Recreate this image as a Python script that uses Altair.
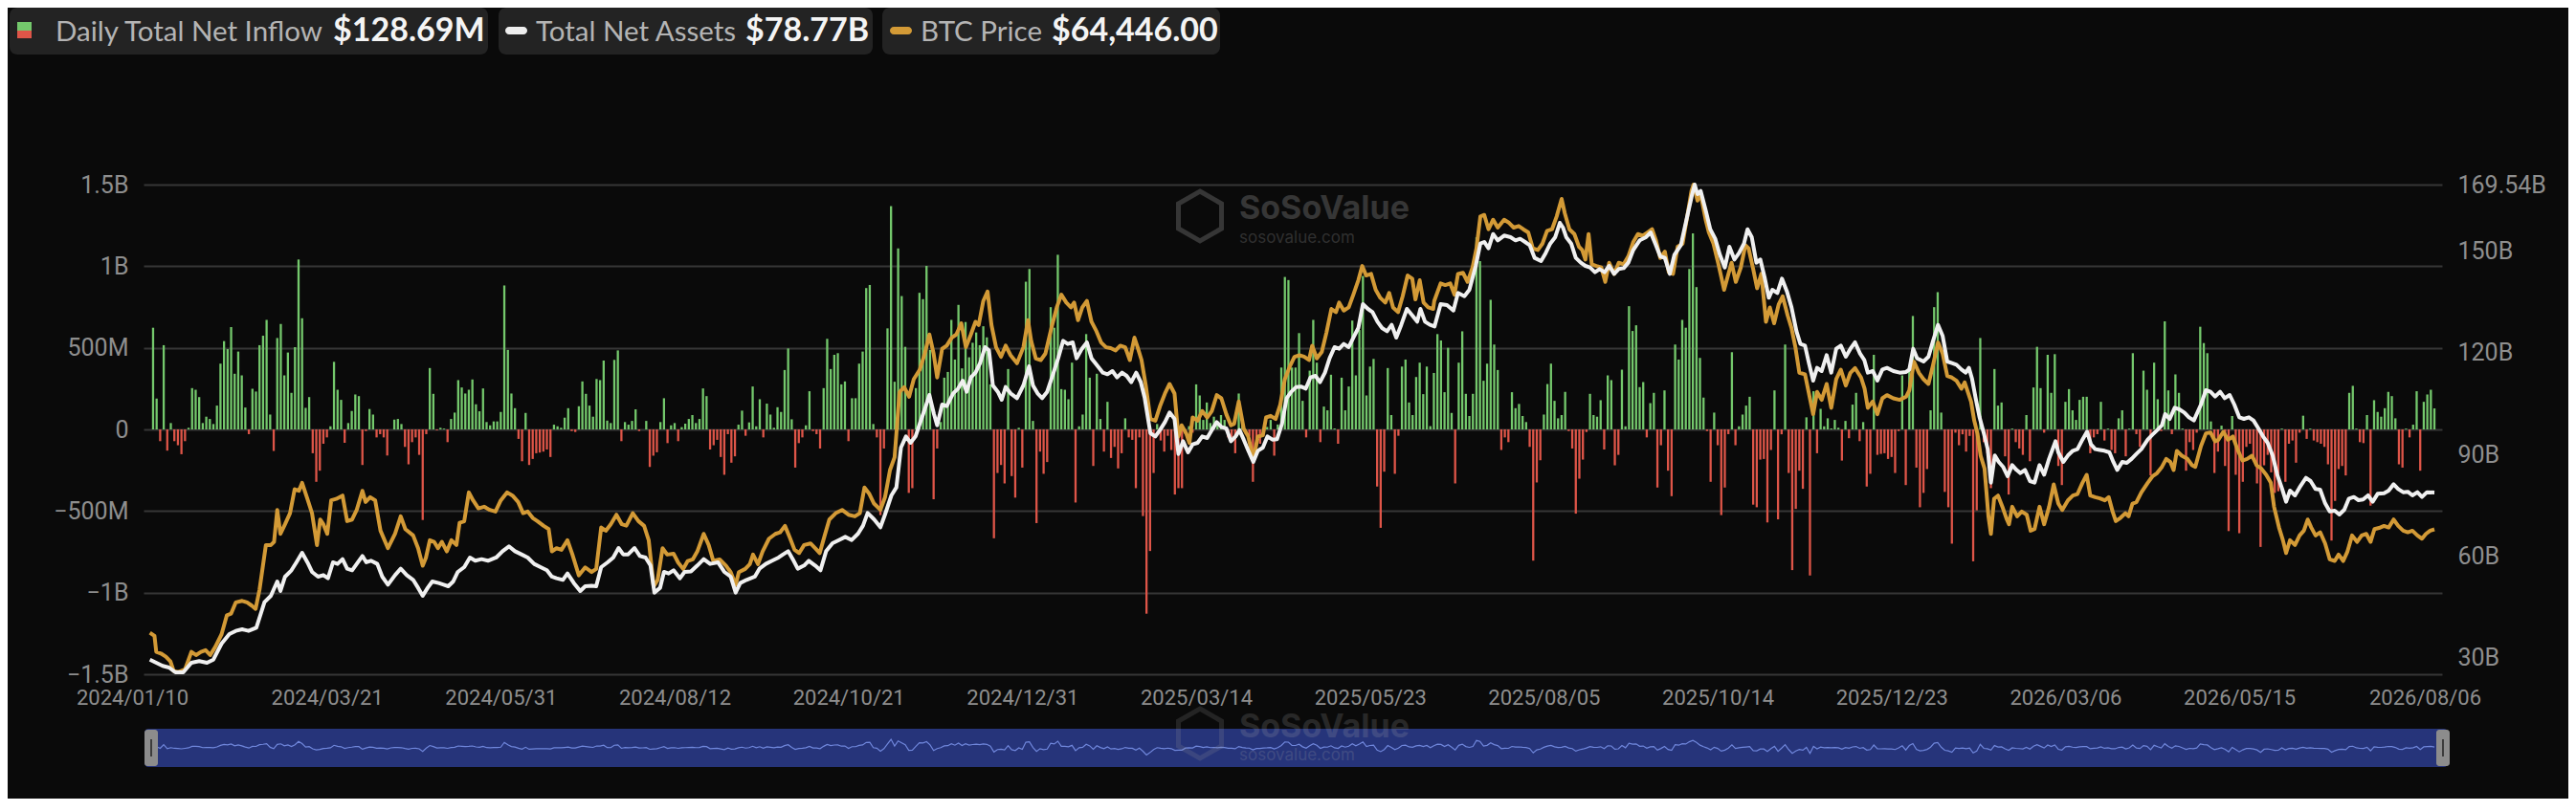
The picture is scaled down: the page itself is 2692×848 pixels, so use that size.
import altair as alt
import pandas as pd

# ---------------- data ----------------
date_labels = ["2024/01/10", "2024/03/21", "2024/05/31", "2024/08/12", "2024/10/21",
               "2024/12/31", "2025/03/14", "2025/05/23", "2025/08/05", "2025/10/14",
               "2025/12/23", "2026/03/06", "2026/05/15", "2026/08/06"]
tick_idx = [0, 49, 98, 147, 196, 245, 294, 343, 392, 441, 490, 539, 588, 643]

# daily total net inflow (USD millions), one value per trading day
inflow_m = [
    623, 189, -72, 516, -130, 39, -72, -97, -152, -72, 10, 253, 243, 198, 39, 78, 64, 33, 146, 403,
    541, 492, 627, 341, 477, 331, 134, -29, 249, 232, 516, 574, 671, 91, -132, 560, 646, 331, 471, 224,
    504, 1041, 681, 132, 198, -146, -321, -253, -88, -49, 19, 414, 243, 181, -82, 39, 113, 214, 204, -218,
    -10, 125, 91, -49, -29, -49, -160, 0, 60, 64, 33, -107,
    -214, -78, -49, -156, -555, -29, 376, 218, -6, 10, 5, -78, 64, 103, 302, 257, 220, 243, 306, 154,
    111, 251, 45, 25, 49, 49, 107, 882, 487, 220, 130, -58, -195, 101, -218, -181, -146, -142, -136, -123,
    -169, 29, 19, 10, 72, 130, -10, -16, 142, 294, 218, 146, 78, 309, 302, 422, 54, 39, 426, 484,
    -72, 45, 29, 52, 123, -10, 0, 52, -230, -161, -140, 45,
    191, -84, 25, 39, -72, 14, 35, 64, 88, 39, 64, 251, 204, -123, -97, -64, -169, -278, -29, -204,
    -165, 29, 115, -39, 43, 263, 19, 185, -49, 158, 91, 10, 136, 107, 364, 496, 62, -234, -84, -49,
    25, 234, -10, -29, -117, 253, 555, 370, 457, 467, 276, 294, -72, 191, 191, 403, 477, 866, 885, 33,
    -49, -525, -117, 619, 1368, 292, 1109, 817, 506, -389, -360, 253, 837,
    798, 1002, 487, -428, -117, 45, 317, 352, 671, 428, 763, 374, 658, 442, 531, 594, 516, 632, 564, 276,
    -667, -267, -218, -331, 370, -286, -418, 10, -234, 905, 983, 52, -574, -136, -272, -200, 749, 623, 1070, 247,
    243, 185, 409, -448, 19, 91, 584, 317, -224, 341, 64, -136, 169, -175, -107, -239, -146, 68, -49, -64,
    -360, -49, -531, -1129, -745, -267, 33, -68, -136, -39, -126, -399,
    -360, -360, -30, 20, -20, 276, 208, 58, 165, 39, 78, 25, 88, 58, -49, -49, -146, 220, 58, -30,
    -40, -321, -107, -88, -15, 15, 58, -161, 30, 379, 934, 915, 379, 379, 590, 175, -49, 360, 671, 409,
    -78, 140, 117, 335, 6, -88, 317, 117, 263, 667, 331, 609, 940, 208, 385, 432, -350, -603, -259, 376,
    88, -272, -39, 385, 428, 165, 88, 321, 409, 216, 385, 20, 346,
    584, 545, 228, 500, 101, -331, 409, 601, 218, 82, 218, 1177, 1031, 298, 403, 794, 520, 364, -126, -49,
    -78, 228, 130, 156, 82, 45, -107, -804, -325, -189, 91, 278, 403, 175, 68, 88, 230, -10, -117, -516,
    -302, -185, -16, 218, 88, 78, 179, -123, 331, 302, -220, -156, 366, 19, 755, 603, 638, 259, 290, -49,
    161, 224, -356, -97, 239, -253, -409, 520, 428, 671, 623, 983,
    1201, 872, 438, 195, -10, -321, 103, -97, -525, -356, -29, 473, -97, 19, 91, 146, 200, -461, -477, -185,
    -181, -570, -126, 239, -551, -30, 520, -267, -862, -487, -253, -364, 74, -895, 234, -146, 126, 19, 68, 6,
    58, 10, -191, 52, -54, 152, 224, -72, 45, -350, -272, 457, -156, -150, -146, -181, -169, -267, -10, 331,
    -341, 379, 695, -234, -477, -389, -243, 117, 749, 841, 103, -383, -477,
    -700, -20, -97, -30, -136, -40, -808, -496, 560, -78, -146, -360, 370, 146, 165, -165, -399, 5, -78, -117,
    -156, 88, -195, 257, 506, 253, -20, 457, 224, 461, -224, -341, 169, 247, 117, 58, 181, 200, 200, -146,
    -49, -29, 169, -68, 5, -126, -146, 68, 117, -165, 5, 467, -29, -107, 360, 243, -282, 409, 185, -10,
    662, 239, -29, 337, 224, 5, -253, -78, -126, -20, 629, 529,
    467, 49, -267, -136, 23, -224, -623, 82, -278, -636, -321, -107, -88, -185, -331, -720, -220, -156, -263, -389,
    -379, 5, -321, -88, -68, -204, -20, 84, -58, 5, -68, -78, -88, -107, -214, -681, -438, -243, -224, -282,
    224, 267, 5, -78, -84, 88, -467, 179, 107, 78, 130, 230, 204, 68, -214, -234, 5, -49, 29, 234,
    -253, 169, 214, 243, 128.69,
]

# total net assets (USD billions) at trading-day positions
tna_idx = [
    -0.9, 0.9, 2.7, 4.5, 6.3, 8.5, 10.8, 13.0, 15.2, 17.0, 19.3, 21.5, 23.3, 25.1, 26.9, 29.1, 31.4, 33.2, 35.0, 35.9,
    37.2, 39.0, 40.4, 42.0, 43.5, 44.8, 46.5, 48.0, 49.3, 50.7, 52.0, 53.4, 54.7, 56.1, 57.4, 59.0, 60.1, 61.4, 63.2, 64.6,
    66.2, 68.2, 69.8,
    71.5, 73.3, 74.7, 76.0, 77.4, 78.7, 80.5, 81.9, 83.2, 84.6, 85.9, 87.7, 89.3, 90.8, 92.6, 94.4, 96.7, 98.5, 100.3, 102.0,
    103.8, 105.6, 107.4, 109.2, 111.0, 112.4, 113.7, 115.5, 116.8, 118.6, 120.4, 121.8, 123.6, 124.9, 126.3, 128.1, 129.7, 131.2, 132.5, 133.9,
    135.7, 137.2, 138.8, 140.2, 141.3, 142.9,
    144.0, 145.3, 146.7, 148.5, 149.8, 151.6, 153.4, 155.2, 157.0, 159.2, 161.0, 162.8, 164.2, 165.5, 167.3, 169.6, 170.9, 172.7, 174.5, 176.3,
    177.6, 179.0, 180.3, 181.7, 183.5, 184.8, 186.6, 188.1, 189.7, 191.5, 193.3, 195.1, 196.9, 198.7, 200.1, 201.4, 203.2, 205.0, 206.3, 208.1,
    209.5, 210.8, 212.2, 213.5, 214.9,
    216.1, 217.5, 218.8, 220.1, 221.0, 222.4, 223.7, 225.5, 226.9, 228.2, 229.3, 230.5, 231.8, 233.1, 234.5, 235.6, 236.7, 238.1, 239.2, 240.3,
    241.7, 243.5, 245.3, 246.9, 248.0, 249.3, 250.6, 252.0, 253.8, 255.1, 256.5, 257.8, 259.2, 260.3, 261.8, 263.2, 264.5, 265.9, 267.7, 269.0,
    270.4, 271.7, 273.1, 274.4, 275.7, 277.1, 278.4, 279.5, 281.1, 282.5, 283.8, 285.2, 286.5, 287.9,
    289.0, 290.3, 291.7, 293.0, 294.4, 295.7, 297.1, 298.4, 299.8, 301.1, 302.5, 303.8, 305.1, 306.2, 307.4, 308.7, 310.1, 311.4, 312.8, 314.1,
    315.5, 316.8, 318.2, 319.5, 320.8, 322.2, 323.5, 324.9, 326.2, 327.6, 328.9, 330.3, 331.6, 333.0, 334.3, 335.6, 337.0, 338.3, 339.7, 341.0,
    342.4, 343.7, 345.1, 346.4, 347.8, 349.1, 350.4, 351.8, 353.4, 354.9, 356.3, 357.2, 358.5, 359.9, 361.2,
    362.9, 364.7, 366.5, 367.8, 369.6, 371.0, 372.8, 374.1, 375.2, 376.4, 377.7, 379.0, 380.8, 382.6, 384.0, 385.3, 386.7, 388.0, 389.4, 391.2,
    392.5, 393.8, 395.2, 396.5, 397.4, 398.3, 399.7, 401.0, 402.4, 403.7, 405.0, 406.4, 407.7, 409.1, 410.4, 411.8, 413.1, 414.5, 415.8, 417.2,
    419.0, 420.8, 422.1, 423.4, 424.8, 426.1, 427.5, 428.8, 430.6, 432.0, 433.8,
    434.5, 435.3, 436.2, 437.6, 438.9, 440.3, 441.6, 443.0, 444.3, 445.7, 447.0, 448.4, 449.4, 450.6, 451.9, 453.0, 454.2, 455.4, 456.4, 457.8,
    459.1, 460.5, 461.8, 463.2, 464.3, 465.6, 466.7, 467.9, 469.0, 470.3, 471.7, 473.0, 474.4, 475.7, 477.1, 478.4, 479.7, 481.1, 482.3, 483.3,
    484.7, 486.0, 487.4, 488.7, 490.5, 492.3, 494.1, 495.0, 496.1, 497.2, 499.0, 500.4, 501.7, 503.1, 504.4,
    505.7, 507.0, 508.3, 509.7, 510.9, 511.8, 512.7, 513.7, 514.8, 516.0, 517.1, 518.0, 519.1, 520.2, 521.4, 522.7, 524.0, 525.2, 526.3, 527.6,
    529.0, 530.3, 531.7, 533.0, 534.4, 536.2, 537.0, 538.4, 539.7, 541.1, 542.4, 543.8, 545.1, 546.2, 547.4, 548.7, 550.0, 551.4, 552.5, 553.6,
    555.0, 556.3, 557.7, 559.0, 560.4, 562.2, 563.5, 564.9, 566.2, 567.1, 568.4, 569.8, 571.1, 572.5, 573.8, 575.2,
    577.2, 578.6, 579.9, 581.2, 582.6, 583.9, 585.3, 586.6, 588.0, 589.3, 590.7, 592.0, 593.4, 594.7, 596.0, 597.4, 598.7, 600.1, 601.2, 602.3,
    603.7, 605.0, 606.8, 608.1, 609.5, 610.8, 612.2, 613.5, 614.9, 616.2, 617.6, 618.9, 620.3, 621.6, 622.9, 624.3, 625.6, 627.0, 628.8, 630.1,
    631.5, 632.8, 634.2, 635.5, 636.8, 638.2, 639.5, 640.9, 643.0,
]
tna_b = [
    29.52, 28.59, 27.65, 27.18, 25.77, 25.77, 28.59, 29.06, 28.59, 29.52, 34.22, 37.04, 37.98, 38.45, 37.98, 38.92, 46.44, 48.32, 52.55, 49.73,
    53.96, 55.84, 58.19, 61.00, 58.19, 55.37, 53.96, 54.43, 53.49, 58.19, 57.72, 59.13, 56.31, 55.84, 57.72, 60.07, 58.19, 58.66, 57.72, 53.96,
    51.61, 54.43, 56.31,
    54.43, 53.02, 50.67, 48.32, 50.67, 52.55, 52.08, 51.61, 51.14, 52.55, 55.37, 56.78, 59.60, 58.66, 59.13, 58.66, 59.60, 61.47, 62.89, 61.47,
    60.54, 59.60, 57.72, 56.78, 55.84, 53.96, 53.49, 53.02, 54.90, 52.08, 49.73, 51.14, 51.30, 51.14, 56.78, 58.19, 59.60, 62.41, 60.54, 60.54,
    62.41, 60.07, 59.60, 57.25, 49.26, 50.67,
    55.37, 54.90, 55.84, 53.49, 55.37, 55.50, 57.25, 59.13, 57.72, 58.19, 55.37, 53.96, 49.26, 52.08, 53.02, 53.96, 56.31, 57.72, 58.66, 59.60,
    60.54, 61.47, 59.13, 56.31, 57.25, 58.66, 57.25, 55.84, 61.47, 63.82, 64.76, 65.70, 64.76, 66.64, 68.99, 72.75, 70.87, 68.52, 72.28, 77.92,
    80.27, 92.02, 95.30, 93.42, 95.30,
    99.06, 103.29, 107.52, 101.88, 98.59, 104.70, 104.23, 107.99, 109.40, 111.75, 108.46, 112.69, 114.10, 116.92, 121.62, 120.68, 110.34, 108.46, 106.11, 109.87,
    107.99, 106.58, 110.34, 115.98, 110.34, 107.99, 106.58, 108.46, 114.10, 118.33, 123.49, 122.56, 123.03, 118.33, 121.15, 123.03, 118.33, 116.45, 114.10, 113.63,
    114.57, 112.69, 114.10, 113.16, 111.28, 114.10, 111.28, 106.58, 96.24, 95.30, 97.18, 99.53, 102.35, 100.47,
    90.13, 93.89, 90.61, 92.95, 93.42, 95.30, 94.83, 97.18, 99.53, 98.12, 97.65, 93.89, 95.30, 97.18, 94.36, 91.08, 87.79, 91.08, 92.02, 95.30,
    94.36, 94.50, 99.06, 106.58, 108.46, 109.87, 110.00, 109.40, 112.69, 113.16, 111.28, 114.10, 118.33, 121.62, 121.15, 122.56, 121.62, 124.43, 127.25, 134.30,
    132.89, 131.95, 129.13, 127.25, 126.31, 128.19, 124.43, 128.19, 132.89, 131.01, 129.13, 132.89, 129.13, 128.19, 127.72,
    134.30, 134.00, 132.42, 137.59, 136.65, 138.53, 145.58, 152.16, 152.63, 150.75, 154.97, 153.10, 154.51, 154.04, 153.10, 153.57, 152.63, 151.69, 147.93, 146.99,
    149.34, 152.16, 154.04, 158.26, 156.85, 154.04, 152.16, 147.93, 146.52, 145.58, 145.11, 143.70, 144.64, 143.70, 145.58, 143.23, 144.64, 144.90, 146.52, 150.28,
    153.10, 154.04, 155.44, 152.16, 148.40, 147.93, 143.23, 148.87, 151.69, 158.26, 166.72,
    169.54, 166.72, 167.66, 162.02, 156.38, 153.57, 148.87, 145.11, 151.22, 147.46, 149.34, 152.16, 156.38, 154.04, 146.52, 147.46, 142.29, 136.18, 138.53, 137.59,
    141.82, 138.06, 133.36, 126.31, 122.56, 122.08, 116.92, 111.75, 115.51, 114.57, 119.27, 114.10, 121.15, 122.08, 118.80, 121.15, 123.03, 119.74, 117.86, 114.10,
    114.57, 111.75, 115.04, 115.51, 114.57, 114.10, 114.30, 115.04, 121.15, 118.33, 117.39, 118.80, 123.49, 128.19, 124.90,
    117.39, 116.92, 116.45, 115.04, 114.10, 115.51, 112.22, 106.58, 100.94, 96.24, 91.55, 81.68, 89.67, 87.79, 86.38, 83.56, 86.85, 85.44, 84.50, 85.44,
    82.15, 81.68, 86.85, 84.03, 88.73, 93.89, 90.61, 87.79, 89.67, 91.08, 91.55, 94.36, 96.71, 92.95, 91.55, 91.30, 91.08, 90.61, 87.79, 85.44,
    87.79, 87.50, 88.73, 90.14, 91.55, 94.36, 95.77, 97.18, 98.59, 101.88, 100.47, 103.76, 103.29, 102.35, 100.94, 100.00,
    104.70, 108.93, 108.46, 107.05, 108.46, 106.58, 107.52, 104.70, 100.94, 100.47, 100.94, 100.00, 97.65, 95.30, 93.42, 89.67, 84.03, 79.80, 76.04, 79.33,
    77.92, 80.27, 83.09, 82.15, 79.80, 79.60, 75.57, 73.22, 73.40, 72.28, 73.69, 76.98, 77.45, 76.51, 76.70, 77.92, 76.04, 78.39, 78.58, 79.33,
    81.21, 79.80, 78.86, 79.00, 77.92, 78.86, 77.45, 78.86, 78.77,
]

# BTC price (USD thousands) at trading-day positions
btc_idx = [
    -0.9, 0.4, 0.9, 2.2, 3.6, 4.9, 5.8, 7.2, 9.0, 10.8, 12.1, 13.5, 14.8, 16.1, 17.5, 19.3, 20.8, 22.0, 23.3, 25.1,
    26.5, 27.8, 28.9, 30.0, 31.8, 33.2, 34.1, 35.0, 35.9, 37.2, 38.6, 39.9, 41.1, 42.0, 43.5, 44.8, 46.2, 47.1, 48.0, 49.1,
    50.2, 51.6, 53.4, 54.7, 56.1, 57.4, 59.0, 59.9, 61.2, 62.6, 64.1, 66.2, 68.2, 69.8,
    71.1, 73.3, 74.7, 76.0, 76.9, 78.0, 79.2, 80.3, 81.4, 82.8, 84.1, 85.5, 86.4, 87.7, 89.0, 90.2, 91.7, 93.3, 94.9, 96.5,
    98.0, 99.8, 101.3, 102.9, 104.3, 105.6, 107.0, 108.3, 110.1, 111.5, 112.4, 113.7, 115.1, 116.8, 118.2, 120.0, 121.8, 123.6, 124.9, 126.3,
    127.6, 129.0, 130.6, 132.1, 133.4, 135.2, 136.8, 138.4, 139.7, 141.1, 142.2,
    143.6, 144.9, 146.7, 148.0, 149.4, 150.7, 152.1, 153.4, 155.2, 156.6, 157.9, 159.7, 161.5, 162.8, 164.2, 165.1, 166.9, 168.2, 169.1, 170.5,
    171.8, 173.6, 175.4, 176.7, 178.1, 179.4, 180.8, 182.1, 183.5, 185.3, 186.6, 187.9, 189.3, 190.6, 192.4, 194.2, 196.0, 197.8, 199.2, 200.5,
    201.9, 203.2, 205.0, 206.3, 207.7, 209.0, 210.4, 211.7, 213.1, 214.4,
    216.1, 217.5, 218.8, 220.0, 221.0, 222.4, 223.7, 225.1, 226.4, 227.8, 229.1, 230.5, 231.8, 232.7, 234.0, 235.2, 236.3, 237.6, 239.0, 240.3,
    241.7, 243.5, 245.3, 246.6, 247.5, 248.8, 250.2, 251.5, 253.3, 254.7, 256.0, 257.4, 258.7, 259.6, 260.7, 261.9, 263.2, 264.5, 265.9, 267.2,
    268.6, 269.9, 271.3, 272.6, 274.0, 275.3, 276.6, 277.5, 278.6, 279.8, 281.1, 282.5, 283.8, 285.2, 286.5, 287.9,
    289.0, 289.9, 291.2, 292.1, 293.0, 294.4, 295.7, 297.1, 298.4, 299.8, 301.1, 302.5, 303.8, 304.7, 306.0, 307.4, 308.7, 310.1, 311.4, 312.8,
    313.7, 315.0, 316.4, 317.7, 319.0, 320.4, 321.7, 323.1, 324.4, 325.8, 326.7, 328.0, 329.4, 330.7, 332.1, 333.4, 334.3, 335.6, 337.0, 338.3,
    339.7, 340.8, 341.9, 343.3, 344.6, 345.9, 347.3, 348.4, 349.5, 350.9, 352.2, 353.6, 354.9, 355.8, 357.0, 358.1, 359.4, 360.8,
    361.1, 362.9, 364.2, 365.6, 366.8, 367.8, 369.2, 370.5, 371.9, 373.0, 374.1, 375.2, 376.4, 377.7, 379.0, 380.8, 382.2, 383.5, 384.9, 386.2,
    387.6, 388.9, 390.3, 391.6, 392.9, 394.3, 395.6, 397.0, 397.9, 399.2, 400.6, 401.9, 402.8, 403.7, 404.6, 405.5, 406.8, 408.2, 409.3, 410.4,
    411.8, 413.1, 414.5, 415.8, 417.2, 418.5, 419.9, 421.2, 422.5, 423.6, 424.8, 426.1, 427.2, 428.4, 429.7, 431.1, 432.4,
    433.6, 434.2, 435.3, 436.2, 437.6, 438.5, 439.8, 441.2, 442.8, 443.9, 444.9, 446.1, 447.5, 448.8, 449.7, 451.0, 452.1, 453.3, 454.6, 455.7,
    456.9, 458.2, 459.3, 460.7, 461.8, 462.9, 464.0, 465.6, 466.7, 467.9, 469.0, 470.3, 471.7, 473.0, 474.4, 475.7, 477.1, 478.4, 479.7, 481.4,
    482.4, 483.3, 484.7, 486.0, 487.4, 488.7, 490.5, 492.3, 494.1, 495.0, 496.3, 497.7, 499.0, 500.4, 501.7, 503.1, 504.4,
    505.7, 507.0, 508.3, 509.7, 510.6, 511.5, 512.4, 513.3, 514.2, 515.1, 516.2, 517.3, 518.0, 518.9, 520.0, 521.4, 522.5, 523.1, 524.0, 525.4,
    526.7, 528.1, 529.2, 530.3, 531.7, 533.0, 534.4, 535.7, 537.0, 538.1, 539.7, 541.1, 542.4, 543.8, 545.0, 546.0, 547.4, 548.7, 550.1, 551.2,
    552.3, 553.2, 554.5, 555.9, 556.8, 557.9, 559.0, 560.4, 562.2, 563.5, 564.8, 566.2, 567.4, 568.6, 569.5, 570.4, 571.8, 573.4, 574.7, 575.6,
    577.2, 578.6, 579.9, 581.2, 582.1, 583.5, 584.8, 586.2, 587.5, 588.9, 590.2, 591.6, 592.9, 594.2, 595.6, 596.9, 597.8, 599.2, 600.3, 601.2,
    602.3, 603.7, 605.0, 606.2, 607.3, 608.3, 609.5, 610.8, 612.2, 613.5, 614.9, 616.0, 617.3, 618.5, 619.8, 621.2, 622.5, 623.8, 625.0, 626.1,
    627.4, 628.8, 630.1, 631.5, 632.8, 634.2, 635.5, 636.8, 638.2, 639.5, 640.6, 641.8, 643.0,
]
btc_k = [
    45.93, 45.36, 42.50, 42.22, 41.65, 40.79, 39.08, 38.90, 39.36, 42.50, 41.93, 42.50, 42.80, 41.93, 43.36, 45.65, 49.07, 49.36, 51.36, 51.64,
    51.36, 50.79, 50.22, 53.64, 61.64, 61.64, 62.21, 67.93, 63.64, 65.36, 67.35, 71.64, 71.35, 72.78, 69.93, 67.35, 61.64, 66.21, 65.36, 63.64,
    69.64, 69.90, 70.50, 65.93, 66.21, 67.93, 71.35, 69.35, 70.21, 69.64, 64.21, 61.07, 63.64, 66.78,
    64.50, 63.36, 61.07, 57.93, 59.36, 62.50, 62.21, 61.07, 62.21, 60.50, 62.50, 61.64, 65.64, 65.90, 71.07, 69.64, 68.21, 68.50, 67.93, 67.64,
    69.64, 71.07, 70.50, 69.35, 67.35, 67.64, 66.50, 65.93, 65.07, 64.50, 60.50, 61.07, 60.79, 62.50, 59.93, 56.21, 57.64, 56.79, 57.36, 64.78,
    64.21, 65.36, 67.07, 65.36, 65.10, 67.35, 65.93, 65.07, 62.50, 54.22, 55.36,
    61.07, 59.93, 60.10, 58.50, 57.36, 58.79, 59.07, 60.50, 63.64, 61.64, 58.79, 59.07, 57.93, 56.79, 54.50, 56.79, 57.36, 58.21, 59.93, 58.21,
    60.50, 62.78, 63.64, 63.90, 65.07, 63.07, 60.79, 60.21, 61.64, 61.93, 61.07, 60.21, 63.36, 66.21, 67.35, 67.93, 67.07, 66.78, 67.35, 71.93,
    70.78, 69.07, 67.93, 70.21, 75.07, 77.35, 89.06, 89.92, 88.21, 91.35,
    93.06, 95.92, 99.35, 95.92, 91.64, 96.78, 97.35, 98.78, 99.35, 101.35, 97.06, 99.35, 101.63, 101.06, 105.35, 107.06, 101.06, 97.06, 95.35, 97.35,
    95.63, 94.21, 97.06, 101.92, 98.20, 95.06, 94.77, 95.92, 100.78, 104.20, 106.49, 105.06, 104.20, 105.06, 101.92, 104.20, 105.35, 101.63, 99.92, 97.92,
    97.06, 96.90, 96.49, 97.35, 97.06, 94.77, 98.78, 97.06, 94.77, 90.21, 84.21, 83.92, 86.49, 88.78, 90.49, 88.78,
    81.07, 83.07, 81.64, 79.92, 84.49, 83.92, 85.64, 84.49, 85.64, 88.49, 87.92, 85.07, 83.07, 83.35, 87.35, 82.49, 81.07, 77.07, 81.07, 81.30,
    84.49, 84.78, 84.21, 86.78, 91.35, 93.63, 95.35, 95.63, 95.40, 94.77, 97.35, 95.06, 96.21, 99.63, 103.92, 103.35, 105.06, 103.63, 104.20, 106.49,
    109.06, 111.63, 109.92, 110.20, 107.35, 105.92, 105.06, 106.78, 104.20, 103.35, 106.20, 109.92, 109.35, 105.63, 109.06, 105.06, 104.20, 103.92,
    105.35, 108.49, 108.20, 108.50, 106.49, 110.20, 110.40, 108.77, 111.34, 114.77, 120.49, 120.77, 118.20, 119.91, 118.49, 119.91, 119.34, 118.49, 118.77, 118.20,
    117.63, 114.77, 114.49, 115.63, 117.91, 118.20, 120.49, 123.63, 121.06, 118.20, 117.34, 115.06, 114.49, 112.77, 117.34, 111.92, 111.63, 111.34, 108.78, 112.20,
    110.20, 112.20, 111.92, 113.34, 115.92, 117.34, 117.06, 117.63, 118.20, 116.20, 113.06, 114.20, 110.49, 110.20, 115.06, 115.63, 120.49,
    125.06, 126.20, 123.34, 124.48, 119.91, 117.63, 115.63, 111.92, 107.35, 109.92, 112.20, 108.77, 111.34, 115.34, 114.77, 111.06, 107.63, 110.20, 101.63, 104.20,
    101.35, 104.78, 106.20, 102.78, 100.49, 97.06, 92.49, 92.21, 88.78, 85.07, 89.06, 87.64, 90.49, 86.21, 91.35, 93.06, 90.21, 92.49, 93.35, 91.64,
    89.64, 86.21, 87.35, 85.07, 87.92, 88.49, 87.92, 87.64, 88.21, 89.35, 94.49, 92.49, 91.35, 90.49, 93.92, 97.92, 95.92,
    91.92, 91.64, 91.06, 89.64, 90.78, 89.06, 87.35, 83.92, 81.64, 77.64, 75.35, 66.78, 63.64, 69.93, 70.50, 68.21, 66.21, 65.36, 68.50, 66.78,
    67.64, 67.07, 64.21, 64.50, 68.50, 65.36, 68.50, 72.50, 69.07, 67.93, 69.64, 70.50, 70.78, 72.78, 74.21, 70.50, 70.21, 70.00, 69.64, 70.21,
    67.64, 65.93, 66.50, 67.35, 66.78, 69.07, 69.30, 71.07, 72.78, 73.92, 74.50, 75.64, 77.07, 76.50, 75.07, 78.50, 77.64, 77.07, 75.92, 75.64,
    79.35, 81.64, 81.80, 80.21, 80.49, 81.92, 80.49, 81.07, 78.78, 76.78, 77.07, 77.64, 75.92, 75.35, 74.21, 72.78, 68.50, 64.78, 62.50, 60.21,
    62.50, 61.64, 63.36, 64.21, 66.21, 64.78, 63.36, 63.93, 61.93, 59.07, 58.80, 59.93, 58.79, 60.50, 63.36, 62.21, 63.36, 63.64, 62.21, 64.50,
    64.70, 65.07, 64.78, 66.21, 65.07, 64.21, 63.93, 64.21, 63.36, 62.78, 63.64, 64.21, 64.446,
]

# ---------------- style ----------------
BG = "#0a0a0a"
GREEN = "#74c86c"
RED = "#de5548"
ORANGE = "#d39a36"
WHITE = "#f0f0f0"
GRID = "#363636"
LABEL = "#8e8e8e"
PILL = "#232323"
W, H = 2402, 512

bars = pd.DataFrame({"i": list(range(len(inflow_m))), "v": inflow_m})
tna = pd.DataFrame({"i": tna_idx, "tna": tna_b})
btc = pd.DataFrame({"i": btc_idx, "btc": btc_k})
one = pd.DataFrame({"a": [0]})

x_scale = alt.Scale(domain=[-1.34, 643.8], nice=False, zero=False)
date_js = "[" + ",".join("'%s'" % d for d in date_labels) + "]"
idx_js = "[" + ",".join(str(i) for i in tick_idx) + "]"

x_axis = alt.Axis(
    values=tick_idx, labelExpr=date_js + "[indexof(" + idx_js + ", datum.value)]",
    grid=False, ticks=False, domain=False, title=None, labelColor=LABEL,
    labelFont="Roboto", labelFontSize=22, labelPadding=14, labelFlush=False,
    labelOverlap=False,
    labelOffset={"condition": [{"test": "datum.value == 0", "value": -22},
                               {"test": "datum.value == 643", "value": -10}], "value": 0},
)
left_axis = alt.Axis(
    orient="left", values=[-1500, -1000, -500, 0, 500, 1000, 1500],
    labelExpr="datum.value == 0 ? '0' : (datum.value < 0 ? '\u2212' : '') + "
              "(abs(datum.value) >= 1000 ? format(abs(datum.value) / 1000, '~g') + 'B' : format(abs(datum.value), 'd') + 'M')",
    grid=True, gridColor=GRID, gridWidth=2, ticks=False, domain=False, title=None,
    labelColor=LABEL, labelFont="Roboto", labelFontSize=25, labelPadding=16,
)
right_axis = alt.Axis(
    orient="right", values=[30, 60, 90, 120, 150, 169.54],
    labelExpr="format(datum.value, '.2~f') + 'B'",
    grid=False, ticks=False, domain=False, title=None,
    labelColor=LABEL, labelFont="Roboto", labelFontSize=25, labelPadding=16,
)


def txt(s, x, y, size, color, weight="normal", font="Lato", align="left", opacity=1.0):
    return alt.Chart(one).mark_text(
        align=align, baseline="alphabetic", font=font, fontSize=size, fontWeight=weight,
        color=color, opacity=opacity,
    ).encode(x=alt.value(x), y=alt.value(y), text=alt.value(s))


def box(x1, x2, y1, y2, color, radius=0, opacity=1.0):
    return alt.Chart(one).mark_rect(color=color, cornerRadius=radius, opacity=opacity).encode(
        x=alt.value(x1), x2=alt.value(x2), y=alt.value(y1), y2=alt.value(y2))


HEX = "M0,-1L0.866,-0.5L0.866,0.5L0,1L-0.866,0.5L-0.866,-0.5Z"


def logo(x, y, color, opacity=1.0):
    return alt.Chart(one).mark_point(shape=HEX, size=2700, filled=False, strokeWidth=5,
                                     color=color, opacity=opacity).encode(
        x=alt.value(x), y=alt.value(y))


# legend pills (values taken from the last data points)
v1 = "$%.2fM" % inflow_m[-1]
v2 = "$%.2fB" % tna_b[-1]
v3 = "${:,.2f}".format(btc_k[-1] * 1000)

legend_layers = [
    box(-140, 360, -185, -136, PILL, 8),
    box(371, 762, -185, -136, PILL, 8),
    box(772, 1125, -185, -136, PILL, 8),
    box(-132, -117, -170, -161, GREEN),
    box(-132, -117, -161, -153, RED),
    txt("Daily Total Net Inflow", -92, -150, 29.5, "#b4b4b4"),
    txt(v1, 198, -150, 34, "#f4f4f4", "bold"),
    box(378, 401, -165, -157, "#eeeeee", 4),
    txt("Total Net Assets", 410, -150, 29.5, "#b4b4b4"),
    txt(v2, 629, -150, 34, "#f4f4f4", "bold"),
    box(780, 803, -165, -157, ORANGE, 4),
    txt("BTC Price", 812, -150, 29.5, "#b4b4b4"),
    txt(v3, 949, -150, 34, "#f4f4f4", "bold"),
]

watermark = [
    logo(1104, 33, "#363636"),
    txt("SoSoValue", 1145, 36, 34, "#363636", "bold", "Inter"),
    txt("sosovalue.com", 1145, 61, 17, "#303030", "normal", "Inter"),
]

bar_layer = alt.Chart(bars).mark_bar(size=2.3).encode(
    x=alt.X("i:Q", scale=x_scale, axis=x_axis),
    y=alt.Y("v:Q", scale=alt.Scale(domain=[-1500, 1500], nice=False), axis=left_axis),
    color=alt.condition("datum.v >= 0", alt.value(GREEN), alt.value(RED)),
)

btc_layer = alt.Chart(btc).mark_line(color=ORANGE, strokeWidth=4, strokeJoin="round").encode(
    x=alt.X("i:Q", scale=x_scale),
    y=alt.Y("btc:Q", scale=alt.Scale(domain=[38.5, 126.2], nice=False, zero=False), axis=None),
)

tna_layer = alt.Chart(tna).mark_line(color=WHITE, strokeWidth=4, strokeJoin="round").encode(
    x=alt.X("i:Q", scale=x_scale),
    y=alt.Y("tna:Q", scale=alt.Scale(domain=[25.2, 169.54], nice=False, zero=False), axis=right_axis),
)

# navigator strip under the axis
nav_layers = [
    box(1, 2408, 569, 609, "#26347a", 4),
    alt.Chart(bars).mark_line(color="#6f86db", strokeWidth=1.2).encode(
        x=alt.X("i:Q", scale=x_scale),
        y=alt.Y("v:Q", scale=alt.Scale(domain=[-2600, 2600], range=[606, 572], nice=False), axis=None),
    ),
    logo(1104, 574, "#9a9a9a", 0.18),
    txt("SoSoValue", 1145, 578, 34, "#b0b0b0", "bold", "Inter", opacity=0.18),
    txt("sosovalue.com", 1145, 602, 17, "#b0b0b0", "normal", "Inter", opacity=0.18),
    box(1, 15, 570, 608, "#8c8c8c", 3),
    box(2396, 2410, 570, 608, "#8c8c8c", 3),
    box(7, 9, 580, 598, "#3c3c3c"),
    box(2402, 2404, 580, 598, "#3c3c3c"),
]

chart = alt.layer(
    *legend_layers, *watermark, bar_layer, btc_layer, tna_layer, *nav_layers
).resolve_scale(y="independent").properties(
    width=W, height=H, background=BG,
    autosize=alt.AutoSizeParams(type="none"),
    padding={"left": 142, "top": 185, "right": 132, "bottom": 130},
).configure_view(stroke=None)

chart.save("out.html", embed_options={"renderer": "svg", "actions": False})
